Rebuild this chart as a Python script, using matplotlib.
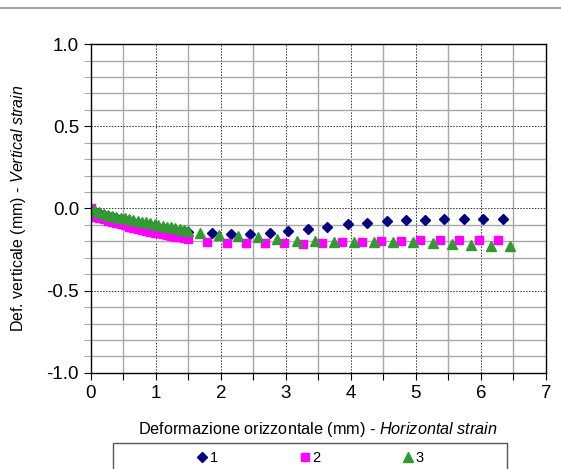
import matplotlib
matplotlib.use("Agg")
import matplotlib.pyplot as plt
from matplotlib.lines import Line2D
from matplotlib.patches import Rectangle
from matplotlib.ticker import MultipleLocator, FormatStrFormatter

plt.rcParams["font.family"] = ["Liberation Sans", "DejaVu Sans"]
plt.rcParams["axes.unicode_minus"] = False
plt.rcParams["mathtext.fontset"] = "custom"
plt.rcParams["mathtext.rm"] = "Liberation Sans"
plt.rcParams["mathtext.it"] = "Liberation Sans:italic"

# data
x1 = [0.00, 0.07, 0.13, 0.20, 0.26, 0.33, 0.39, 0.46, 0.52, 0.59, 0.65, 0.72,
      0.78, 0.85, 0.91, 0.98, 1.04, 1.11, 1.17, 1.24, 1.30, 1.37, 1.43, 1.50,
      1.86, 2.15, 2.45, 2.75, 3.04, 3.34, 3.64, 3.95, 4.25, 4.55, 4.85, 5.14,
      5.44, 5.74, 6.04, 6.34]
y1 = [-0.005, -0.020, -0.029, -0.037, -0.044, -0.051, -0.057, -0.063, -0.069,
      -0.075, -0.081, -0.087, -0.093, -0.098, -0.103, -0.108, -0.113, -0.118,
      -0.123, -0.127, -0.131, -0.135, -0.139, -0.143,
      -0.150, -0.155, -0.155, -0.150, -0.140, -0.126, -0.110, -0.096, -0.086,
      -0.078, -0.070, -0.070, -0.066, -0.066, -0.066, -0.066]

x2 = [0.00, 0.07, 0.13, 0.20, 0.26, 0.33, 0.39, 0.46, 0.52, 0.59, 0.65, 0.72,
      0.78, 0.85, 0.91, 0.98, 1.04, 1.11, 1.17, 1.24, 1.30, 1.37, 1.43, 1.50,
      1.78, 2.09, 2.38, 2.68, 2.97, 3.27, 3.56, 3.87, 4.17, 4.47, 4.77, 5.07,
      5.37, 5.67, 5.97, 6.27]
y2 = [0.000, -0.050, -0.058, -0.066, -0.074, -0.082, -0.089, -0.096, -0.103,
      -0.110, -0.117, -0.123, -0.129, -0.135, -0.141, -0.147, -0.152, -0.157,
      -0.162, -0.167, -0.172, -0.176, -0.180, -0.184,
      -0.207, -0.210, -0.210, -0.210, -0.212, -0.215, -0.210, -0.207, -0.203,
      -0.200, -0.197, -0.193, -0.190, -0.190, -0.190, -0.193]

x3 = [0.00, 0.07, 0.13, 0.20, 0.26, 0.33, 0.39, 0.46, 0.52, 0.59, 0.65, 0.72,
      0.78, 0.85, 0.91, 0.98, 1.04, 1.11, 1.17, 1.24, 1.30, 1.37, 1.43, 1.50,
      1.68, 1.97, 2.27, 2.57, 2.87, 3.17, 3.45, 3.74, 4.05, 4.35, 4.65, 4.96,
      5.26, 5.56, 5.85, 6.15, 6.45]
y3 = [-0.005, -0.016, -0.024, -0.031, -0.038, -0.044, -0.050, -0.055, -0.060,
      -0.065, -0.070, -0.075, -0.080, -0.085, -0.090, -0.095, -0.100, -0.105,
      -0.110, -0.115, -0.120, -0.125, -0.130, -0.136,
      -0.147, -0.160, -0.170, -0.175, -0.185, -0.195, -0.200, -0.205, -0.205,
      -0.205, -0.205, -0.207, -0.210, -0.217, -0.223, -0.227, -0.230]

series_names = ["1", "2", "3"]

fig = plt.figure(figsize=(5.61, 4.69), dpi=100)
ax = fig.add_axes([0.162, 0.205, 0.811, 0.701])

ax.plot(x1, y1, linestyle="none", marker="D", markersize=4.6,
        color="#000080", label=series_names[0])
ax.plot(x2, y2, linestyle="none", marker="s", markersize=6.2,
        color="#ff00ff", label=series_names[1])
ax.plot(x3, y3, linestyle="none", marker="^", markersize=6.8,
        color="#339933", label=series_names[2])

ax.set_xlim(0, 7)
ax.set_ylim(-1, 1)
ax.xaxis.set_major_locator(MultipleLocator(1))
ax.xaxis.set_minor_locator(MultipleLocator(0.5))
ax.yaxis.set_major_locator(MultipleLocator(0.5))
ax.yaxis.set_minor_locator(MultipleLocator(0.1))
ax.yaxis.set_major_formatter(FormatStrFormatter("%.1f"))

ax.grid(which="minor", color="#a8a8a8", linewidth=1.0, linestyle="-")
ax.grid(which="major", color="#333333", linewidth=0.7, linestyle=(0, (1.5, 1.5)))
ax.set_axisbelow(True)

ax.tick_params(which="both", direction="out", color="black", labelsize=13.5)
ax.tick_params(which="major", length=5, width=0.8)
ax.tick_params(which="minor", length=5, width=0.8)
ax.tick_params(axis="y", which="minor", color="#a8a8a8")
for s in ax.spines.values():
    s.set_linewidth(1.0)
    s.set_color("black")

ax.set_xlabel(r"Deformazione orizzontale (mm) - $\mathit{Horizontal\ strain}$",
              fontsize=11.7, labelpad=13)
ax.set_ylabel(r"Def. verticale (mm) - $\mathit{Vertical\ strain}$",
              fontsize=11.5, labelpad=13.5)

# legend box at the bottom, cut by the figure edge
fig.add_artist(Rectangle((113 / 561, 1 - 478 / 469), 394 / 561, 35 / 469,
                         transform=fig.transFigure, facecolor="white",
                         edgecolor="#555555", linewidth=1.0))
fig.legend(loc="center", bbox_to_anchor=(310 / 561, 1 - 458 / 469), ncol=3,
           frameon=False, fontsize=10.5, handlelength=0.8, handletextpad=0.1,
           columnspacing=5.6, numpoints=1, borderpad=0)

# thin grey line across the top of the picture
fig.add_artist(Line2D([0, 1], [1 - 8 / 469, 1 - 8 / 469], transform=fig.transFigure,
                      color="#a0a0a0", linewidth=1.5))

fig.savefig("out.png", dpi=100)
